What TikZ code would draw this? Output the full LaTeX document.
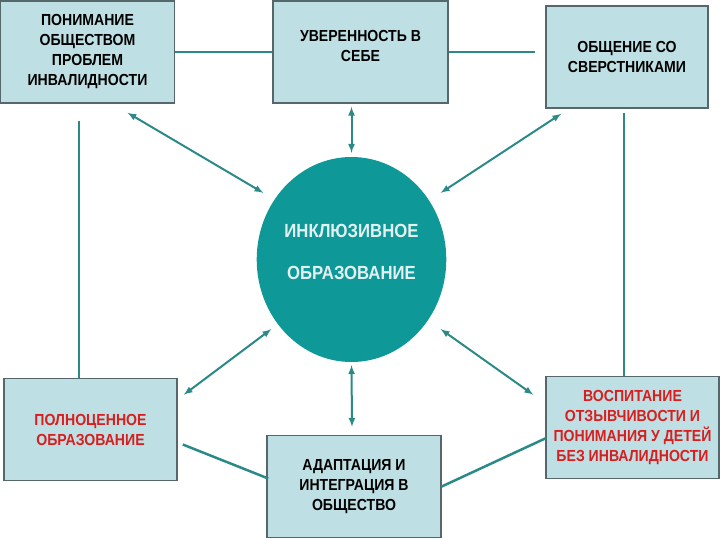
\documentclass[tikz,border=0pt]{standalone}
\usepackage{fontspec}
\setmainfont{Liberation Sans}[BoldFont={Liberation Sans Bold}, FakeStretch=0.88]
\usepackage{tikz}
\usetikzlibrary{shapes.geometric}
\usetikzlibrary{arrows}

\definecolor{boxblue}{HTML}{BEDFE3}
\definecolor{boxgray}{HTML}{56676C}
\definecolor{ellteal}{HTML}{0F9898}
\definecolor{elltext}{HTML}{E4EFEF}
\definecolor{linkteal}{HTML}{2B8A88}
\definecolor{boxred}{HTML}{D81E1E}

\begin{document}
\begin{tikzpicture}[x=1pt, y=-1pt,
    box/.style={draw=boxgray, line width=1.5pt, fill=boxblue, align=center, inner sep=0pt,
        minimum width=174pt, minimum height=102pt, font=\fontsize{16}{20}\selectfont\bfseries},
    link/.style={draw=linkteal, line width=2.5pt},
    both/.style={draw=linkteal, line width=2pt, latex-latex}]
    		\useasboundingbox (0,0) rectangle (720,540);
    		% Boxes and centre:
    		\node[box] (b1) at (87.5, 52) {ПОНИМАНИЕ\\ОБЩЕСТВОМ\\ПРОБЛЕМ\\ИНВАЛИДНОСТИ};
    		\node[box, minimum width=175pt, text depth=13pt] (b2) at (360.5, 52) {УВЕРЕННОСТЬ В\\СЕБЕ};
    		\node[box, minimum width=162pt] (b3) at (627, 57) {ОБЩЕНИЕ СО\\СВЕРСТНИКАМИ};
    		\node[box, text=boxred, minimum width=173pt] (b4) at (90.5, 429.5) {ПОЛНОЦЕННОЕ\\ОБРАЗОВАНИЕ};
    		\node[box] (b5) at (354, 486.5) {АДАПТАЦИЯ И\\ИНТЕГРАЦИЯ В\\ОБЩЕСТВО};
    		\node[box, text=boxred, minimum width=173pt] (b6) at (632.5, 427.5) {ВОСПИТАНИЕ\\ОТЗЫВЧИВОСТИ И\\ПОНИМАНИЯ У ДЕТЕЙ\\БЕЗ ИНВАЛИДНОСТИ};
    		\node[ellipse, fill=ellteal, minimum width=177pt, minimum height=205pt, inner sep=0pt, align=center,
    		    text=elltext, text depth=16pt, font=\fontsize{19}{42}\selectfont\bfseries] (ell) at (351.5, 259.5) {ИНКЛЮЗИВНОЕ\\ОБРАЗОВАНИЕ};
    		% Lines between boxes:
    		\draw[link] (b1.east) -- (b2.west);
    		\draw[link, shorten >=10pt] (b2.east) -- (b2.east -| b3.west);
    		\draw[link, shorten <=17pt] ([shift={(-8.5,0)}]b1.south) -- ([shift={(-8.5,0)}]b1.south |- b4.north);
    		\draw[link, shorten <=4pt] ([shift={(-3,0)}]b3.south) -- ([shift={(-3,0)}]b3.south |- b6.north);
    		\draw[link] ([shift={(5,15)}]b4.east) -- ([shift={(2,-8)}]b5.west);
    		\draw[link] (b5.east) -- ([shift={(1,10.5)}]b6.west);
    		% Arrows to the centre:
    		\draw[both] ([shift={(40,9)}]b1.south) -- ([shift={(-21,6)}]ell.north west);
    		\draw[both] ([shift={(-9,3)}]b2.south) -- ([shift={(0,-4)}]ell.north);
    		\draw[both] ([shift={(16,5)}]b3.south west) -- ([shift={(22,6)}]ell.north east);
    		\draw[both] ([shift={(6,17)}]b4.north east) -- ([shift={(-13,-3)}]ell.south west);
    		\draw[both] ([shift={(-2,-8)}]b5.north) -- ([shift={(0,3)}]ell.south);
    		\draw[both] ([shift={(-12,19)}]b6.north west) -- ([shift={(22,-3)}]ell.south east);
    	\end{tikzpicture}
\end{document}
